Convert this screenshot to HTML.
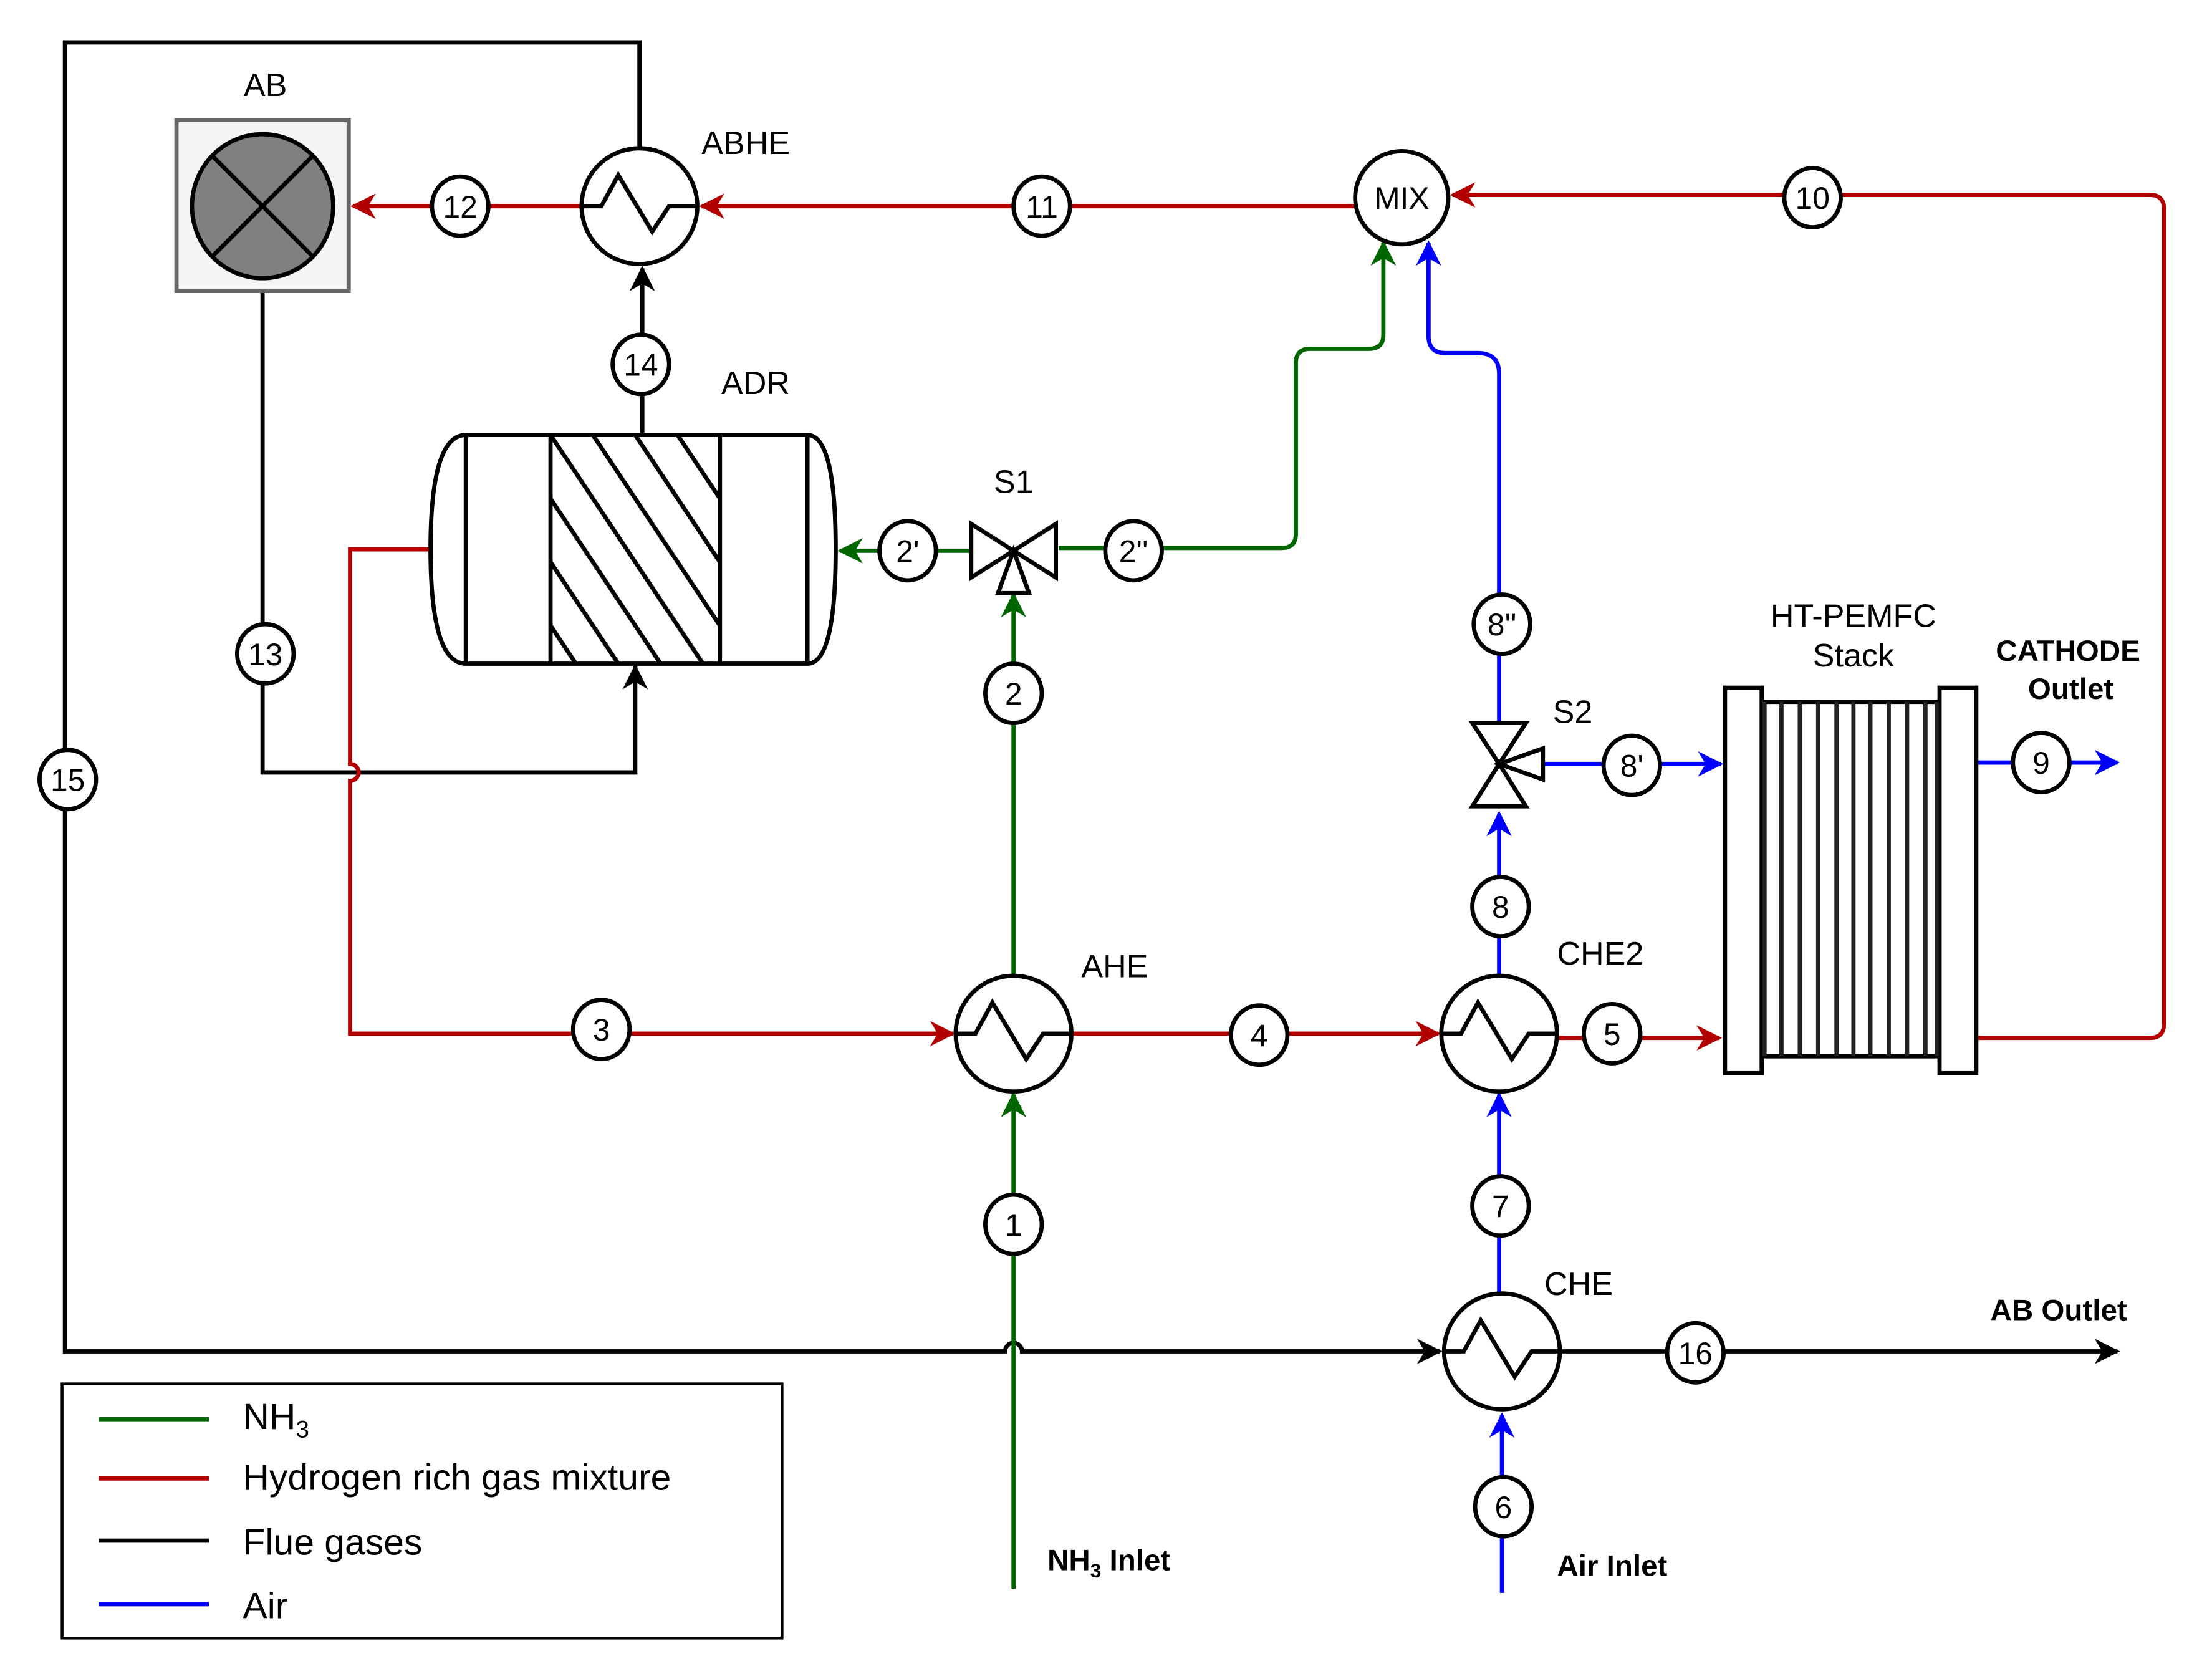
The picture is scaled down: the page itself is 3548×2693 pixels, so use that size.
<!DOCTYPE html>
<html><head><meta charset="utf-8"><style>
html,body{margin:0;padding:0;background:#fff;}
svg{display:block;}
text{font-family:"Liberation Sans",sans-serif;}
</style></head><body>
<svg width="3548" height="2693" viewBox="0 0 1567 1189" preserveAspectRatio="none" xmlns="http://www.w3.org/2000/svg">
<defs>
<marker id="ar" viewBox="0 0 10 10" refX="9" refY="5" markerWidth="22" markerHeight="18" markerUnits="userSpaceOnUse" orient="auto"><path d="M0,0 L10,5 L0,10 L3,5z" fill="#b20000"/></marker>
<marker id="ag" viewBox="0 0 10 10" refX="9" refY="5" markerWidth="22" markerHeight="18" markerUnits="userSpaceOnUse" orient="auto"><path d="M0,0 L10,5 L0,10 L3,5z" fill="#006600"/></marker>
<marker id="ab" viewBox="0 0 10 10" refX="9" refY="5" markerWidth="22" markerHeight="18" markerUnits="userSpaceOnUse" orient="auto"><path d="M0,0 L10,5 L0,10 L3,5z" fill="#0000ff"/></marker>
<marker id="ak" viewBox="0 0 10 10" refX="9" refY="5" markerWidth="22" markerHeight="18" markerUnits="userSpaceOnUse" orient="auto"><path d="M0,0 L10,5 L0,10 L3,5z" fill="#000"/></marker>
</defs>
<g fill="none" stroke-width="3">
<path d="M453,105 V30 H46 V957 H712 a6,6 0 0 1 12,0 H1020" stroke="#000" marker-end="url(#ak)"/>
<path d="M1106,957 H1500" stroke="#000" marker-end="url(#ak)"/>
<path d="M186,207 V547 H450 V472" stroke="#000" marker-end="url(#ak)"/>
<path d="M455,308 V190" stroke="#000" marker-end="url(#ak)"/>
<path d="M412,146 H250" stroke="#b20000" marker-end="url(#ar)"/>
<path d="M960,146 H497" stroke="#b20000" marker-end="url(#ar)"/>
<path d="M1400,735 H1523 q10,0 10,-10 V148 q0,-10 -10,-10 H1029" stroke="#b20000" marker-end="url(#ar)"/>
<path d="M305,389 H248 V541 a6,6 0 0 1 0,12 V732 H675" stroke="#b20000" marker-end="url(#ar)"/>
<path d="M760,732 H1019" stroke="#b20000" marker-end="url(#ar)"/>
<path d="M1104,735 H1218" stroke="#b20000" marker-end="url(#ar)"/>
<path d="M718,1125 V775" stroke="#006600" marker-end="url(#ag)"/>
<path d="M718,691 V421" stroke="#006600" marker-end="url(#ag)"/>
<path d="M688,390 H595" stroke="#006600" marker-end="url(#ag)"/>
<path d="M750,388 H908 q10,0 10,-10 V257 q0,-10 10,-10 H970 q10,0 10,-10 V172" stroke="#006600" marker-end="url(#ag)"/>
<path d="M1064,1128 V1002" stroke="#0000ff" marker-end="url(#ab)"/>
<path d="M1062,916 V775" stroke="#0000ff" marker-end="url(#ab)"/>
<path d="M1062,691 V576" stroke="#0000ff" marker-end="url(#ab)"/>
<path d="M1062,512 V265 q0,-15 -15,-15 H1024 q-12,0 -12,-12 V172" stroke="#0000ff" marker-end="url(#ab)"/>
<path d="M1093,541 H1219" stroke="#0000ff" marker-end="url(#ab)"/>
<path d="M1400,540 H1500" stroke="#0000ff" marker-end="url(#ab)"/>
</g>
<rect x="125" y="85" width="122" height="121" fill="#f5f5f5" stroke="#666" stroke-width="3"/>
<ellipse cx="186" cy="146" rx="50" ry="51" fill="#808080" stroke="#000" stroke-width="3"/>
<path d="M150,110 L222,182 M222,110 L150,182" stroke="#000" stroke-width="3"/>
<g fill="#fff" stroke="#000" stroke-width="3">
<circle cx="453" cy="146" r="41"/>
<circle cx="718" cy="732" r="41"/>
<circle cx="1062" cy="732" r="41"/>
<circle cx="1064" cy="957" r="41"/>
<circle cx="993" cy="140" r="33"/>
</g>
<g fill="none" stroke="#000" stroke-width="3">
<path d="M412,146 H426 L438,124 L462,164 L474,146 H494"/>
<path d="M677,732 H691 L703,710 L727,750 L739,732 H759"/>
<path d="M1021,732 H1035 L1047,710 L1071,750 L1083,732 H1103"/>
<path d="M1023,957 H1037 L1049,935 L1073,975 L1085,957 H1105"/>
</g>
<g stroke="#000" stroke-width="3" fill="#fff">
<path d="M330,308 Q305,308 305,389 Q305,470 330,470 H572 Q592,470 592,389 Q592,308 572,308 Z"/>
<line x1="330" y1="308" x2="330" y2="470"/><line x1="572" y1="308" x2="572" y2="470"/>
<line x1="390" y1="308" x2="390" y2="470"/><line x1="510" y1="308" x2="510" y2="470"/>
</g>
<clipPath id="hc"><rect x="390" y="308" width="120" height="162"/></clipPath>
<g clip-path="url(#hc)" stroke="#000" stroke-width="3">
<path d="M300,308 L408,470 M330,308 L438,470 M360,308 L468,470 M390,308 L498,470 M420,308 L528,470 M450,308 L558,470 M480,308 L588,470"/>
</g>
<g fill="#fff" stroke="#000" stroke-width="3" stroke-linejoin="miter">
<path d="M688,371 L718,390 L688,409 Z"/><path d="M748,371 L718,390 L748,409 Z"/>
<path d="M707,420 L718,390 L729,420 Z"/>
<path d="M1043,512 L1062,541 L1081,512 Z"/><path d="M1043,571 L1062,541 L1081,571 Z"/>
<path d="M1093,530 L1062,541 L1093,552 Z"/>
</g>
<g stroke="#000" stroke-width="3" fill="#fff">
<rect x="1222" y="487" width="26" height="273"/>
<rect x="1374" y="487" width="26" height="273"/>
<line x1="1248" y1="497" x2="1374" y2="497"/><line x1="1248" y1="748" x2="1374" y2="748"/>
</g>
<g stroke="#222" stroke-width="3">
<path d="M1250,497V748 M1262,497V748 M1275,497V748 M1288,497V748 M1301,497V748 M1313,497V748 M1325,497V748 M1338,497V748 M1351,497V748 M1364,497V748 M1372,497V748"/>
</g>
<g fill="#fff" stroke="#000" stroke-width="3">
<ellipse cx="326" cy="146" rx="20" ry="21"/><ellipse cx="738" cy="146" rx="20" ry="21"/>
<ellipse cx="1284" cy="140" rx="20" ry="21"/><ellipse cx="454" cy="258" rx="20" ry="21"/>
<ellipse cx="188" cy="463" rx="20" ry="21"/><ellipse cx="48" cy="552" rx="20" ry="21"/>
<ellipse cx="643" cy="390" rx="20" ry="21"/><ellipse cx="803" cy="390" rx="20" ry="21"/>
<ellipse cx="718" cy="491" rx="20" ry="21"/><ellipse cx="426" cy="729" rx="20" ry="21"/>
<ellipse cx="892" cy="733" rx="20" ry="21"/><ellipse cx="1142" cy="732" rx="20" ry="21"/>
<ellipse cx="718" cy="867" rx="20" ry="21"/><ellipse cx="1063" cy="642" rx="20" ry="21"/>
<ellipse cx="1063" cy="854" rx="20" ry="21"/><ellipse cx="1065" cy="1067" rx="20" ry="21"/>
<ellipse cx="1201" cy="958" rx="20" ry="21"/><ellipse cx="1064" cy="442" rx="20" ry="21"/>
<ellipse cx="1156" cy="542" rx="20" ry="21"/><ellipse cx="1446" cy="540" rx="20" ry="21"/>
</g>
<g font-size="22" text-anchor="middle" fill="#000">
<text x="326" y="154">12</text><text x="738" y="154">11</text><text x="1284" y="148">10</text>
<text x="454" y="266">14</text><text x="188" y="471">13</text><text x="48" y="560">15</text>
<text x="643" y="398">2'</text><text x="803" y="398">2''</text><text x="718" y="499">2</text>
<text x="426" y="737">3</text><text x="892" y="741">4</text><text x="1142" y="740">5</text>
<text x="718" y="875">1</text><text x="1063" y="650">8</text><text x="1063" y="862">7</text>
<text x="1065" y="1075">6</text><text x="1201" y="966">16</text><text x="1064" y="450">8''</text>
<text x="1156" y="550">8'</text><text x="1446" y="548">9</text>
<text x="993" y="148">MIX</text>
</g>
<g font-size="23" fill="#000">
<text x="188" y="68" text-anchor="middle">AB</text>
<text x="497" y="109">ABHE</text>
<text x="511" y="279">ADR</text>
<text x="718" y="349" text-anchor="middle">S1</text>
<text x="1313" y="444" text-anchor="middle">HT-PEMFC</text>
<text x="1313" y="472" text-anchor="middle">Stack</text>
<text x="1100" y="512">S2</text>
<text x="1103" y="683">CHE2</text>
<text x="766" y="692">AHE</text>
<text x="1094" y="917">CHE</text>
</g>
<g font-size="21" font-weight="bold" fill="#000">
<text x="1465" y="468" text-anchor="middle">CATHODE</text>
<text x="1467" y="495" text-anchor="middle">Outlet</text>
<text x="1410" y="935">AB Outlet</text>
<text x="742" y="1112">NH<tspan font-size="14" dy="5">3</tspan><tspan dy="-5"> Inlet</tspan></text>
<text x="1103" y="1116">Air Inlet</text>
</g>
<rect x="44" y="980" width="510" height="180" fill="#fff" stroke="#000" stroke-width="2"/>
<g stroke-width="3">
<line x1="70" y1="1005" x2="148" y2="1005" stroke="#006600"/>
<line x1="70" y1="1047" x2="148" y2="1047" stroke="#b20000"/>
<line x1="70" y1="1091" x2="148" y2="1091" stroke="#000"/>
<line x1="70" y1="1136" x2="148" y2="1136" stroke="#0000ff"/>
</g>
<g font-size="26" fill="#000">
<text x="172" y="1012">NH<tspan font-size="17" dy="6">3</tspan></text>
<text x="172" y="1055">Hydrogen rich gas mixture</text>
<text x="172" y="1101">Flue gases</text>
<text x="172" y="1146">Air</text>
</g>
</svg>
</body></html>
